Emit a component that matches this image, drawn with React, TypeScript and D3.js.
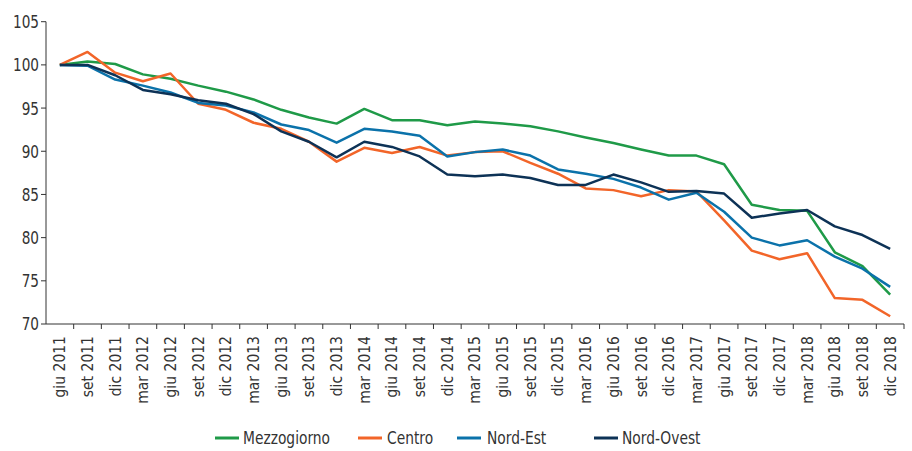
import React from "react";
import * as d3 from "d3";

const categories = [
  "giu 2011", "set 2011", "dic 2011",
  "mar 2012", "giu 2012", "set 2012", "dic 2012",
  "mar 2013", "giu 2013", "set 2013", "dic 2013",
  "mar 2014", "giu 2014", "set 2014", "dic 2014",
  "mar 2015", "giu 2015", "set 2015", "dic 2015",
  "mar 2016", "giu 2016", "set 2016", "dic 2016",
  "mar 2017", "giu 2017", "set 2017", "dic 2017",
  "mar 2018", "giu 2018", "set 2018", "dic 2018",
];

const mezzogiorno = [100, 100.4, 100.1, 98.9, 98.4, 97.6, 96.9, 96.0, 94.8, 93.9, 93.2, 94.9, 93.6, 93.6, 93.0, 93.45, 93.2, 92.9, 92.3, 91.6, 90.95, 90.2, 89.5, 89.5, 88.5, 83.8, 83.2, 83.1, 78.3, 76.7, 73.4];
const centro = [100, 101.5, 99.1, 98.1, 99.0, 95.5, 94.8, 93.3, 92.6, 91.1, 88.8, 90.4, 89.8, 90.5, 89.5, 89.9, 90.0, 88.65, 87.4, 85.7, 85.5, 84.8, 85.5, 85.35, 82.0, 78.5, 77.5, 78.2, 73.0, 72.8, 70.9];
const nordEst = [100, 99.9, 98.3, 97.6, 96.8, 95.6, 95.3, 94.5, 93.1, 92.45, 91.0, 92.6, 92.3, 91.8, 89.4, 89.9, 90.2, 89.5, 87.9, 87.4, 86.8, 85.8, 84.4, 85.2, 83.0, 80.0, 79.1, 79.7, 77.8, 76.4, 74.3];
const nordOvest = [100, 100.0, 98.8, 97.1, 96.6, 95.9, 95.5, 94.3, 92.3, 91.1, 89.3, 91.1, 90.5, 89.4, 87.3, 87.1, 87.3, 86.9, 86.1, 86.1, 87.3, 86.4, 85.3, 85.4, 85.1, 82.3, 82.8, 83.2, 81.3, 80.3, 78.7];

const yTicks = [70, 75, 80, 85, 90, 95, 100, 105];

const seriesNames = ["Mezzogiorno", "Centro", "Nord-Est", "Nord-Ovest"];
const seriesColors = ["#1f9a48", "#f26529", "#0b72aa", "#0d3256"];
const seriesValues = [mezzogiorno, centro, nordEst, nordOvest];

const W = 912;
const H = 451;
const left = 46;
const right = 904;
const top = 21.7;
const bottom = 324;

const FONT = "'Liberation Sans Narrow', 'DejaVu Sans Condensed', 'Liberation Sans', sans-serif";

export default function App() {
  const x = d3.scaleBand<string>().domain(categories).range([left, right]).padding(0);
  const y = d3.scaleLinear().domain([70, 105]).range([bottom, top]);
  const bw = x.bandwidth();
  const line = d3
    .line<number>()
    .x((_, i) => (x(categories[i]) as number) + bw / 2)
    .y((d) => y(d));

  const legendItems = [
    { lx: 215, tx: 243 },
    { lx: 358, tx: 387 },
    { lx: 457, tx: 487 },
    { lx: 594, tx: 622 },
  ];

  return (
    <svg
      width={W}
      height={H}
      style={{ position: "absolute", left: 0, top: 0, background: "#fff" }}
      fontFamily={FONT}
    >
      {/* y axis */}
      <line x1={left} x2={left} y1={y(105)} y2={bottom} stroke="#333" strokeWidth={1} />
      {yTicks.map((t) => (
        <g key={t}>
          <line x1={left - 5} x2={left} y1={y(t)} y2={y(t)} stroke="#333" strokeWidth={1} />
          <text
            transform={`translate(${left - 7},${y(t)}) scale(0.82,1)`}
            dy="0.35em"
            textAnchor="end"
            fontSize={18.5}
            fill="#333"
          >
            {t}
          </text>
        </g>
      ))}
      {/* x axis */}
      <line x1={left} x2={right} y1={bottom} y2={bottom} stroke="#333" strokeWidth={1} />
      {categories.map((c, i) => (
        <line
          key={"t" + i}
          x1={(x(c) as number) + bw}
          x2={(x(c) as number) + bw}
          y1={bottom}
          y2={bottom + 5}
          stroke="#333"
          strokeWidth={1}
        />
      ))}
      {categories.map((c) => {
        const cx = (x(c) as number) + bw / 2;
        return (
          <text
            key={c}
            transform={`translate(${cx},${bottom + 12}) rotate(-90)`}
            textAnchor="end"
            dy="0.35em"
            fontSize={15.5}
            fill="#333"
          >
            {c}
          </text>
        );
      })}
      {/* lines */}
      {seriesValues.map((vals, si) => (
        <path
          key={seriesNames[si]}
          d={line(vals) || ""}
          fill="none"
          stroke={seriesColors[si]}
          strokeWidth={2.5}
          strokeLinejoin="round"
        />
      ))}
      {/* legend */}
      {seriesNames.map((n, i) => (
        <g key={n}>
          <line
            x1={legendItems[i].lx}
            x2={legendItems[i].lx + 24}
            y1={438}
            y2={438}
            stroke={seriesColors[i]}
            strokeWidth={3}
          />
          <text
            transform={`translate(${legendItems[i].tx},438) scale(0.83,1)`}
            dy="0.35em"
            fontSize={18.5}
            fill="#333"
          >
            {n}
          </text>
        </g>
      ))}
    </svg>
  );
}
